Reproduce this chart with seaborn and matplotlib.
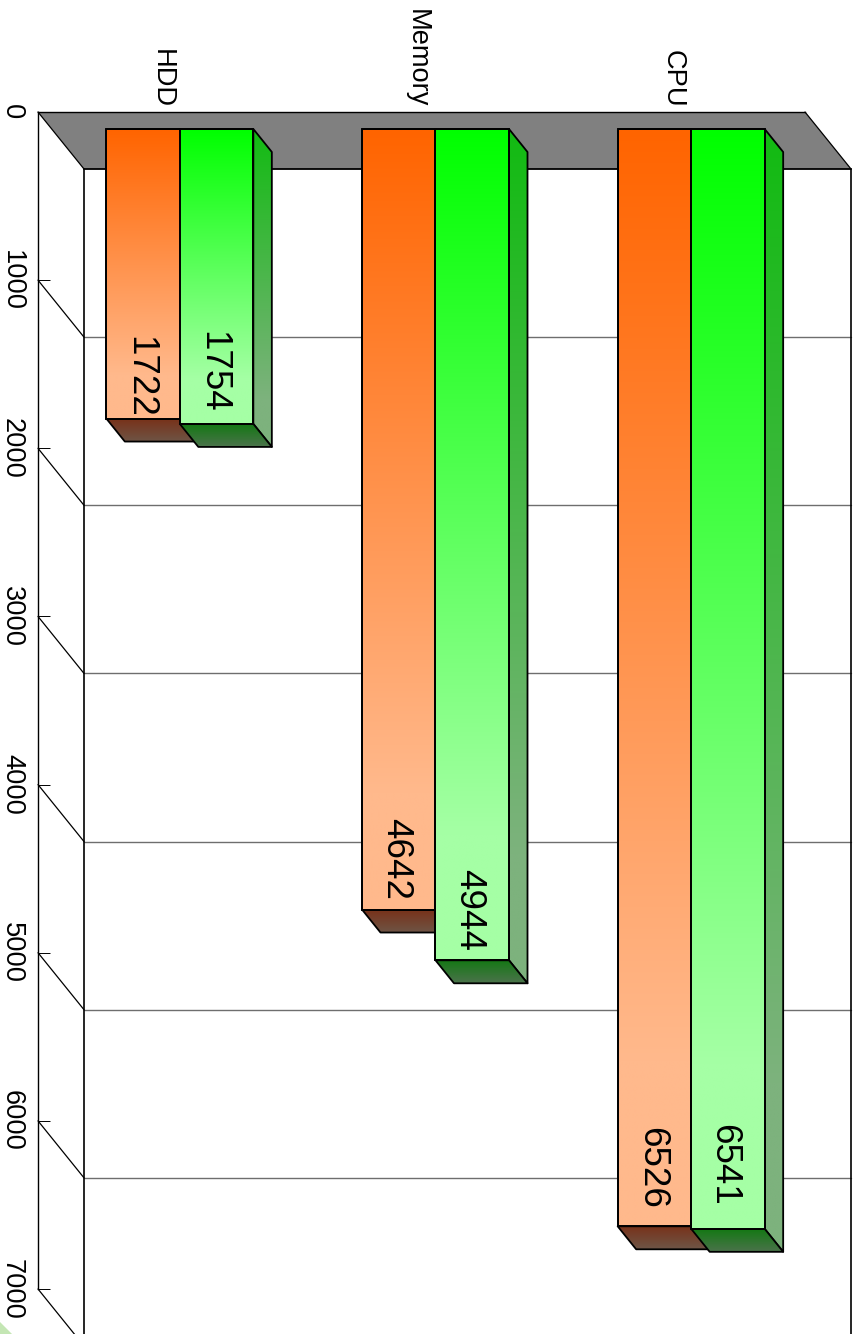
import numpy as np
import pandas as pd
import seaborn as sns
import matplotlib
matplotlib.use("Agg")
import matplotlib.pyplot as plt
from matplotlib.patches import Polygon
from matplotlib.colors import to_rgb
from matplotlib.transforms import ScaledTranslation

categories = ["HDD", "Memory", "CPU"]
series_names = ["Series A", "Series B"]
series_a = [1722, 4642, 6526]
series_b = [1754, 4944, 6541]
value_ticks = [0, 1000, 2000, 3000, 4000, 5000, 6000, 7000]

# Offsets of the value labels from the bar end, in pixels
label_shift_a = [-42, -51, -58]
label_shift_b = [-52, -50, -64]

W, H, DPI = 857, 1334, 100
# Back wall rectangle in pixels
LEFT, RIGHT, TOP, BOTTOM = 38, 805, 112, 1289
PX_X = (RIGHT - LEFT) / 3.0
PX_Y = (BOTTOM - TOP) / 7000.0
# Depth of the box and of the bars, in pixels
BOX_DX, BOX_DY = 46, 57
BAR_DX, BAR_DY = 14, 17
SIDE_DX, SIDE_DY = 18.5, 23

FILL = {
    0: dict(front=("#ff6400", "#ffb98c"), side=("#b85a10", "#8c6a4c"), cap=("#78321a", "#6e5546")),
    1: dict(front=("#00ff00", "#a5ffa5"), side=("#12bb12", "#7db27d"), cap=("#147814", "#4b734b")),
}

sns.set_style("white")
plt.rcParams["font.family"] = ["Liberation Sans", "DejaVu Sans"]
plt.rcParams["text.color"] = "black"
plt.rcParams["xtick.labelcolor"] = "black"
plt.rcParams["ytick.labelcolor"] = "black"

fig = plt.figure(figsize=(W / DPI, H / DPI), dpi=DPI)
ax = fig.add_axes([LEFT / W, 1 - BOTTOM / H, (RIGHT - LEFT) / W, (BOTTOM - TOP) / H])

df = pd.DataFrame({
    "category": categories * 2,
    "series": [series_names[0]] * 3 + [series_names[1]] * 3,
    "value": series_a + series_b,
})
sns.barplot(data=df, x="category", y="value", hue="series", order=categories,
            hue_order=series_names, width=0.575, gap=0, legend=False, ax=ax,
            palette=["#ff6400", "#00ff00"])
ax.set_xlim(-0.5, 2.5)
ax.set_ylim(7000, 0)
ax.set_xlabel("")
ax.set_ylabel("")


def px(x, y, dx=0.0, dy=0.0):
    """Data coordinates displaced by a screen offset in pixels."""
    return x + dx / PX_X, y + dy / PX_Y


def gradient(poly, colors, z, stop=1.0):
    """Fill a polygon in data coordinates with a vertical ramp that settles at `stop`."""
    t = np.clip(np.linspace(0, 1, 256) / stop, 0, 1)[:, None]
    ramp = (1 - t) * np.array(to_rgb(colors[0])) + t * np.array(to_rgb(colors[1]))
    xs, ys = zip(*poly)
    im = ax.imshow(ramp[:, None, :], extent=(min(xs), max(xs), max(ys), min(ys)), origin="upper",
                   aspect="auto", interpolation="bilinear", zorder=z)
    im.set_clip_path(Polygon(poly, closed=True, transform=ax.transData))
    im.set_clip_box(fig.bbox)
    ax.add_patch(Polygon(poly, closed=True, fill=False, edgecolor="black",
                         linewidth=1.3, joinstyle="round", zorder=z + 0.1, clip_on=False))


# Floor of the box, grid lines and the diagonals joining both planes
ax.add_patch(Polygon([px(-0.5, 0), px(2.5, 0), px(2.5, 0, BOX_DX, BOX_DY), px(-0.5, 0, BOX_DX, BOX_DY)],
                     closed=True, facecolor="#808080", edgecolor="none", zorder=1, clip_on=False))
for v in value_ticks:
    x0, y0 = px(-0.5, v)
    x1, y1 = px(-0.5, v, BOX_DX, BOX_DY)
    ax.plot([x0, x1], [y0, y1], color="black", lw=0.9, zorder=1.5, clip_on=False)
    if 0 < v < 7000:
        xr, _ = px(2.5, v, BOX_DX, BOX_DY)
        ax.plot([x1, xr], [y1, y1], color="#6e6e6e", lw=1.0, zorder=1.4, clip_on=False)

x0, y0 = px(2.5, 0)
x1, y1 = px(2.5, 0, BOX_DX, BOX_DY)
ax.plot([x0, x1], [y0, y1], color="black", lw=0.9, zorder=1.5, clip_on=False)
xl, _ = px(-0.5, 0, BOX_DX, BOX_DY)
ax.plot([xl, x1], [y1, y1], color="black", lw=1.3, zorder=1.6, clip_on=False)
ybot = 7000 + BOX_DY / PX_Y
ax.plot([xl, xl], [y1, ybot], color="black", lw=1.2, zorder=1.6, clip_on=False)
ax.plot([x1, x1], [y1, ybot], color="black", lw=1.2, zorder=1.6, clip_on=False)

# Bars: shift each one off the back wall, then add its gradient faces
for s, container in enumerate(ax.containers):
    style = FILL[s]
    shifts = label_shift_a if s == 0 else label_shift_b
    for i, bar in enumerate(container.patches):
        base = 3 + 2 * s
        bar.set_x(bar.get_x() + BAR_DX / PX_X)
        bar.set_y(BAR_DY / PX_Y)
        bar.set_facecolor("none")
        bar.set_edgecolor("black")
        bar.set_linewidth(1.3)
        bar.set_clip_on(False)
        bar.set_zorder(base + 1.2)
        xa, xb = bar.get_x(), bar.get_x() + bar.get_width()
        ya, yb = bar.get_y(), bar.get_y() + bar.get_height()
        side = [(xb, ya), px(xb, ya, SIDE_DX, SIDE_DY), px(xb, yb, SIDE_DX, SIDE_DY), (xb, yb)]
        cap = [(xa, yb), (xb, yb), px(xb, yb, SIDE_DX, SIDE_DY), px(xa, yb, SIDE_DX, SIDE_DY)]
        face = [(xa, ya), (xb, ya), (xb, yb), (xa, yb)]
        gradient(side, style["side"], base, stop=0.85)
        gradient(cap, style["cap"], base + 0.4)
        gradient(face, style["front"], base + 0.8, stop=0.85)
        ax.annotate(str(int(bar.get_height())), xy=((xa + xb) / 2, yb),
                    xytext=(-3 - s, -shifts[i]), textcoords="offset pixels",
                    rotation=270, ha="center", va="center",
                    fontsize=26.5, color="black", zorder=9, annotation_clip=False)

# Axes furniture on the back wall
for name in ("right", "bottom"):
    ax.spines[name].set_visible(False)
for name in ("left", "top"):
    ax.spines[name].set_linewidth(1.0)
    ax.spines[name].set_color("black")
    ax.spines[name].set_zorder(2)
ax.grid(False)
ax.patch.set_visible(False)

ax.xaxis.tick_top()
ax.set_xticks(range(3), labels=categories)
ax.set_xticks([0.5, 1.5, 2.5], minor=True)
ax.tick_params(axis="x", which="major", length=0, pad=3.0, labelsize=19.6, labelrotation=270)
ax.tick_params(axis="x", which="minor", top=True, direction="in", length=8.6, width=0.7, color="black")
ax.set_yticks(value_ticks, labels=[str(v) for v in value_ticks])
ax.tick_params(axis="y", which="major", left=True, direction="in", length=8.6, width=0.7,
               pad=9.4, labelsize=19.6, labelrotation=270, color="black")
nudge = ScaledTranslation(-4.5 / DPI, 0, fig.dpi_scale_trans)
for lab in ax.get_xticklabels():
    lab.set_va("bottom")
    lab.set_ha("center")
    lab.set_transform(lab.get_transform() + nudge)
for lab in ax.get_yticklabels():
    lab.set_va("center")
    lab.set_ha("right")

# Pale green corner mark at the lower left
fig.add_artist(Polygon([(0, 0), (0, 12 / H), (12 / W, 0)], closed=True, facecolor="#c4e6b4",
                       edgecolor="none", transform=fig.transFigure))

fig.savefig("out.png", dpi=DPI, facecolor="white")
